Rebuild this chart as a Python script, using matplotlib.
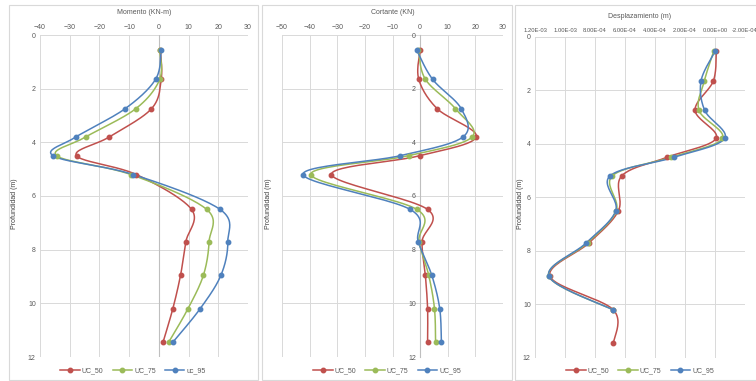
import numpy as np
import matplotlib
matplotlib.use("Agg")
import matplotlib.pyplot as plt
from matplotlib.patches import Rectangle
from matplotlib.lines import Line2D
from matplotlib.ticker import FuncFormatter

plt.rcParams['font.family'] = ['Liberation Sans', 'DejaVu Sans']

# Profundidad de los puntos (m)
depth = [0.55, 1.65, 2.75, 3.8, 4.5, 5.2, 6.5, 7.7, 8.95, 10.2, 11.45]

series_names = ["UC_50", "UC_75", "UC_95"]
colors = ["#C0504D", "#9BBB59", "#4F81BD"]

# Momento (KN-m)
mom_50 = [0.5, 0.8, -2.5, -16.7, -27.7, -7.6, 11.0, 9.1, 7.3, 4.7, 1.4]
mom_75 = [0.3, 0.3, -7.8, -24.6, -34.4, -9.4, 16.1, 16.9, 15.0, 9.8, 3.3]
mom_95 = [0.8, -1.1, -11.4, -27.9, -35.6, -8.6, 20.6, 23.2, 20.9, 13.9, 4.7]

# Cortante (KN)
cor_50 = [0.0, -0.5, 6.2, 20.3, -0.1, -32.1, 2.7, 0.7, 1.9, 2.7, 2.7]
cor_75 = [-0.6, 1.9, 12.8, 18.8, -4.2, -39.6, -1.2, -0.4, 3.1, 5.2, 5.6]
cor_95 = [-1.3, 4.5, 14.9, 15.5, -7.3, -42.4, -3.6, -0.7, 4.2, 7.1, 7.7]

# Desplazamiento (m)
des_50 = [-0.09e-4, 0.11e-4, 1.33e-4, -0.07e-4, 3.18e-4, 6.22e-4, 6.44e-4, 8.40e-4, 11.0e-4, 6.78e-4, 6.78e-4]
des_75 = [0.09e-4, 0.71e-4, 1.07e-4, -0.49e-4, 2.91e-4, 6.85e-4, 6.58e-4, 8.50e-4, 11.07e-4, 6.80e-4]
des_95 = [0.0, 0.93e-4, 0.69e-4, -0.64e-4, 2.71e-4, 7.00e-4, 6.62e-4, 8.58e-4, 11.07e-4, 6.80e-4]

TXT = "#595959"
GRID = "#D9D9D9"
FS = 5.0
W, H = 756, 381


def smooth(x, y, n=24):
    # curva suavizada tipo Excel (bezier con tangentes de Catmull-Rom)
    p = np.column_stack([x, y]).astype(float)
    out = [p[0]]
    for i in range(len(p) - 1):
        p0 = p[i - 1] if i > 0 else p[i]
        p1, p2 = p[i], p[i + 1]
        p3 = p[i + 2] if i + 2 < len(p) else p[i + 1]
        c1 = p1 + (p2 - p0) / 6
        c2 = p2 - (p3 - p1) / 6
        t = np.linspace(0, 1, n)[1:, None]
        seg = (1 - t) ** 3 * p1 + 3 * (1 - t) ** 2 * t * c1 + 3 * (1 - t) * t ** 2 * c2 + t ** 3 * p2
        out.extend(seg)
    out = np.array(out)
    return out[:, 0], out[:, 1]


def px_axes(fig, x0, y0, x1, y1):
    return fig.add_axes([x0 / W, 1 - y1 / H, (x1 - x0) / W, (y1 - y0) / H])


def style(ax, title, xlim, xticks, zero_line=True):
    ax.set_xlim(*xlim)
    ax.set_ylim(12, 0)
    ax.set_xticks(xticks)
    ax.set_yticks(range(0, 13, 2))
    ax.xaxis.tick_top()
    ax.grid(True, color=GRID, linewidth=0.7)
    ax.set_axisbelow(True)
    for s in ["top", "bottom", "right", "left"]:
        ax.spines[s].set_visible(False)
    ax.tick_params(length=0, labelsize=FS, colors=TXT, pad=3)
    ax.set_title(title, fontsize=FS, color=TXT, pad=7)
    if zero_line:
        ax.axvline(0, color="#BFBFBF", linewidth=0.8, zorder=1)


def draw(ax, xs):
    for vals, c in zip(xs, colors):
        d = depth[:len(vals)]
        sx, sy = smooth(vals, d)
        ax.plot(sx, sy, color=c, linewidth=1.1, zorder=3)
        ax.plot(vals, d, "o", color=c, markersize=3.2, zorder=4)


def legend(fig, cx, labels):
    handles = [Line2D([], [], color=c, linewidth=1.1, marker="o", markersize=3.2) for c in colors]
    fig.legend(handles, labels, loc="center", bbox_to_anchor=(cx / W, 1 - 371 / H),
               ncol=3, frameon=False, fontsize=FS, labelcolor=TXT, handlelength=2.8,
               columnspacing=1.3, handletextpad=0.3)


def ylabel(fig, x):
    fig.text(x / W, 1 - 204 / H, "Profundidad (m)", rotation=90, ha="center", va="center",
             fontsize=FS, color="#404040")


fig = plt.figure(figsize=(W / 100, H / 100), dpi=100)

for (x0, x1) in [(9, 258), (262, 512), (515, 762)]:
    fig.add_artist(Rectangle((x0 / W, 1 - 380 / H), (x1 - x0) / W, 375 / H,
                             transform=fig.transFigure, fill=False, edgecolor=GRID, linewidth=0.8))

# Momento
ax1 = px_axes(fig, 40, 35, 248, 357)
style(ax1, "Momento (KN-m)", (-40, 30), range(-40, 31, 10))
draw(ax1, [mom_50, mom_75, mom_95])
ylabel(fig, 15)
legend(fig, 133, ["UC_50", "UC_75", "uc_95"])

# Cortante
ax2 = px_axes(fig, 282, 35, 503, 357)
style(ax2, "Cortante (KN)", (-50, 30), range(-50, 31, 10), zero_line=False)
ax2.spines["left"].set_visible(True)
ax2.spines["left"].set_position(("data", 0))
ax2.spines["left"].set_color("#BFBFBF")
ax2.spines["left"].set_linewidth(0.8)
draw(ax2, [cor_50, cor_75, cor_95])
ylabel(fig, 269)
legend(fig, 387, series_names)

# Desplazamiento
ax3 = px_axes(fig, 535, 36.7, 745, 358)
style(ax3, "Desplazamiento (m)", (1.2e-3, -2e-4), np.arange(-2e-4, 1.21e-3, 2e-4), zero_line=False)
ax3.xaxis.set_major_formatter(FuncFormatter(lambda v, p: "{:.2E}".format(0 if abs(v) < 1e-12 else v)))
ax3.tick_params(axis="x", labelsize=4.2)
draw(ax3, [des_50, des_75, des_95])
ylabel(fig, 521)
legend(fig, 640, series_names)

fig.savefig("out.png", dpi=100)
